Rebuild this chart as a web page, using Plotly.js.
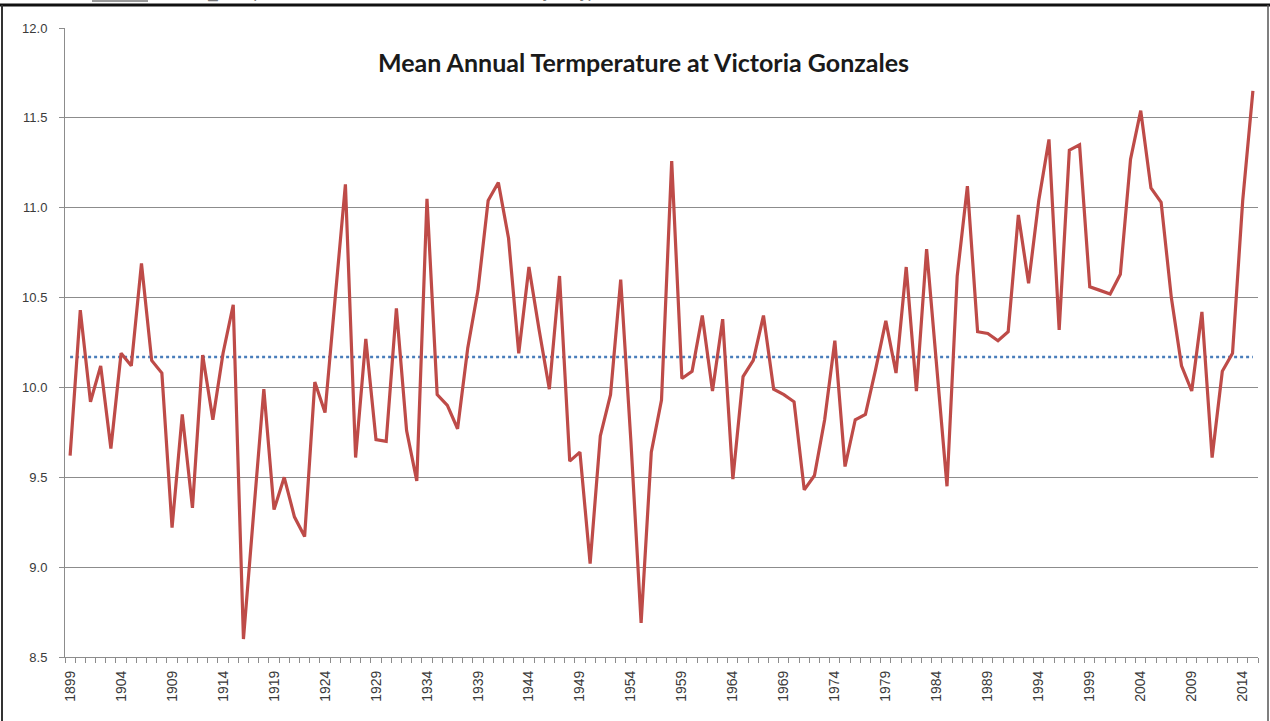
<!DOCTYPE html>
<html>
<head>
<meta charset="utf-8">
<script src="https://cdn.plot.ly/plotly-3.0.1.min.js"></script>
<style>
  html, body { margin: 0; padding: 0; background: #fff; }
  #chart { width: 1270px; height: 721px; }
</style>
</head>
<body>
<div id="chart"></div>
<script>
// ---- Data ----
const years = [];
for (let y = 1899; y <= 2015; y++) years.push(y);

const meanTemp = [
  9.62, 10.43, 9.92, 10.12, 9.66, 10.19, 10.12, 10.69, 10.15, 10.08,   // 1899-1908
  9.22, 9.85, 9.33, 10.18, 9.82, 10.19, 10.46, 8.60, 9.30, 9.99,       // 1909-1918
  9.32, 9.50, 9.28, 9.17, 10.03, 9.86, 10.50, 11.13, 9.61, 10.27,      // 1919-1928
  9.71, 9.70, 10.44, 9.76, 9.48, 11.05, 9.96, 9.90, 9.77, 10.22,       // 1929-1938
  10.54, 11.04, 11.14, 10.83, 10.19, 10.67, 10.32, 9.99, 10.62, 9.59,  // 1939-1948
  9.64, 9.02, 9.73, 9.96, 10.60, 9.70, 8.69, 9.64, 9.93, 11.26,        // 1949-1958
  10.05, 10.09, 10.40, 9.98, 10.38, 9.49, 10.06, 10.15, 10.40, 9.99,   // 1959-1968
  9.96, 9.92, 9.43, 9.51, 9.82, 10.26, 9.56, 9.82, 9.85, 10.10,        // 1969-1978
  10.37, 10.08, 10.67, 9.98, 10.77, 10.10, 9.45, 10.62, 11.12, 10.31,  // 1979-1988
  10.30, 10.26, 10.31, 10.96, 10.58, 11.04, 11.38, 10.32, 11.32, 11.35,// 1989-1998
  10.56, 10.54, 10.52, 10.63, 11.27, 11.54, 11.11, 11.03, 10.50, 10.12,// 1999-2008
  9.98, 10.42, 9.61, 10.09, 10.19, 11.04, 11.65                        // 2009-2015
];

const longTermMean = 10.17;
const tickYears = [1899, 1904, 1909, 1914, 1919, 1924, 1929, 1934, 1939, 1944,
                   1949, 1954, 1959, 1964, 1969, 1974, 1979, 1984, 1989, 1994,
                   1999, 2004, 2009, 2014];
const yTicks = [8.5, 9.0, 9.5, 10.0, 10.5, 11.0, 11.5, 12.0];

const chartTitle = 'Mean Annual Termperature at Victoria Gonzales';
const cutLegendText = 'CRU3_h2? (Satellite altimeter data, 1990 to 2009, yearly)';

// ---- Traces ----
const meanLine = {
  x: [years[0], years[years.length - 1]],
  y: [longTermMean, longTermMean],
  type: 'scatter',
  mode: 'lines',
  line: { color: '#4a7ebb', width: 2.5, dash: 'dot' },
  hoverinfo: 'skip',
  showlegend: false
};

const tempLine = {
  x: years,
  y: meanTemp,
  type: 'scatter',
  mode: 'lines',
  line: { color: '#be4b48', width: 3.2 },
  showlegend: false
};

const W = 1270, H = 721;
const L = 65, R = 12, T = 28, B = 64;
const pw = W - L - R, ph = H - T - B;
const px = v => (v - L) / pw;
const py = v => (H - B - v) / ph;

const yTickFont = { size: 13, color: '#3a3a3a', family: '"Liberation Sans", Arial, sans-serif' };
const xTickFont = { size: 14, color: '#3a3a3a', family: '"Liberation Sans", Arial, sans-serif' };

const layout = {
  width: W,
  height: H,
  margin: { l: L, r: R, t: T, b: B, pad: 0 },
  paper_bgcolor: '#ffffff',
  plot_bgcolor: '#ffffff',
  font: { family: 'Lato, "Liberation Sans", sans-serif', color: '#333333' },
  showlegend: false,
  xaxis: {
    range: [1898.5, 2015.5],
    tickmode: 'array',
    tickvals: tickYears,
    ticktext: tickYears.map(String),
    tickangle: -90,
    ticks: '',
    ticklabelstandoff: 7,
    tickfont: xTickFont,
    showgrid: false,
    zeroline: false,
    showline: true,
    linecolor: '#8c8c8c',
    linewidth: 1,
    minor: { dtick: 1, tick0: 1898.5, ticks: 'outside', ticklen: 5, tickcolor: '#8c8c8c', showgrid: false },
    fixedrange: true
  },
  yaxis: {
    range: [8.5, 12.0],
    tickmode: 'array',
    tickvals: yTicks,
    ticktext: yTicks.map(v => v.toFixed(1)),
    ticks: 'outside',
    ticklen: 5,
    tickcolor: '#8c8c8c',
    ticklabelstandoff: 9,
    tickfont: yTickFont,
    showgrid: true,
    gridcolor: '#8c8c8c',
    gridwidth: 1,
    zeroline: false,
    showline: true,
    linecolor: '#8c8c8c',
    linewidth: 1,
    fixedrange: true
  },
  annotations: [
    {
      text: '<b>' + chartTitle + '</b>',
      xref: 'paper', yref: 'paper',
      x: px(643), y: py(62),
      xanchor: 'center', yanchor: 'middle',
      showarrow: false,
      font: { size: 25, color: '#1a1a1a', family: 'Lato, "Liberation Sans", sans-serif' }
    },
    {
      text: cutLegendText,
      xref: 'paper', yref: 'paper',
      x: px(160), y: py(4),
      xanchor: 'left', yanchor: 'bottom',
      showarrow: false,
      font: { size: 17, color: '#777777', family: '"Liberation Sans", sans-serif' }
    }
  ],
  shapes: [
    // legend sample line (cut off)
    { type: 'line', xref: 'paper', yref: 'paper', x0: px(92), x1: px(148), y0: py(1), y1: py(1),
      line: { color: '#999999', width: 2 }, layer: 'above' },
    // outer frame
    { type: 'line', xref: 'paper', yref: 'paper', x0: px(0), x1: px(1270), y0: py(5), y1: py(5),
      line: { color: '#111111', width: 3 }, layer: 'above' },
    { type: 'line', xref: 'paper', yref: 'paper', x0: px(2), x1: px(2), y0: py(5), y1: py(721),
      line: { color: '#333333', width: 2 }, layer: 'above' },
    { type: 'line', xref: 'paper', yref: 'paper', x0: px(1268), x1: px(1268), y0: py(5), y1: py(721),
      line: { color: '#555555', width: 1.5 }, layer: 'above' }
  ]
};

Plotly.newPlot('chart', [meanLine, tempLine], layout, { displayModeBar: false, staticPlot: true });
</script>
</body>
</html>
